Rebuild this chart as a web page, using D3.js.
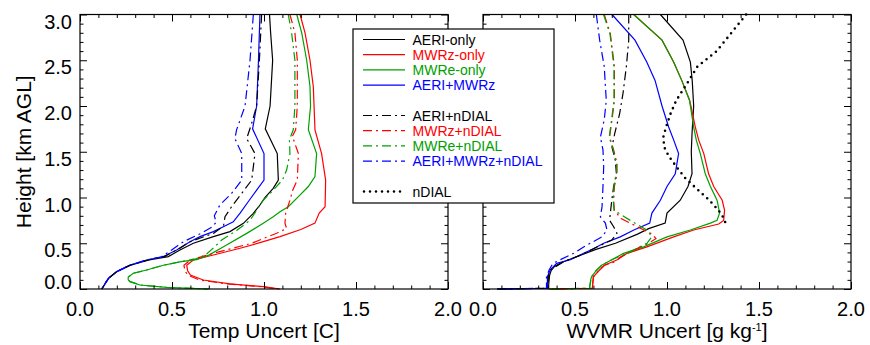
<!DOCTYPE html>
<html>
<head>
<meta charset="utf-8">
<script src="https://cdn.jsdelivr.net/npm/d3@7"></script>
<style>
body{margin:0;background:#fff;}
svg{font-family:"Liberation Sans", Arial, Helvetica, sans-serif;}
</style>
</head>
<body>
<div id="chart"></div>
<script>
// [height km, uncertainty] pairs, top of profile first
const tAeri = [[3.0,1.03],[2.8,1.036],[2.5,1.047],[2.0,1.033],[1.75,1.007],[1.48,1.072],[1.19,1.078],[1.1,1.05],[1.0,1.005],[0.918,0.978],[0.827,0.942],[0.718,0.888],[0.627,0.815],[0.572,0.725],[0.5,0.616],[0.426,0.543],[0.354,0.48],[0.317,0.375],[0.26,0.275],[0.19,0.2],[0.116,0.156],[0.06,0.138],[0.0,0.12]];
const tMwrz = [[3.0,1.196],[2.8,1.223],[2.5,1.25],[2.21,1.268],[2.0,1.272],[1.74,1.277],[1.48,1.313],[1.19,1.335],[0.9,1.332],[0.83,1.30],[0.72,1.277],[0.65,1.2],[0.572,1.087],[0.517,0.996],[0.445,0.87],[0.372,0.725],[0.317,0.616],[0.26,0.58],[0.2,0.585],[0.153,0.6],[0.098,0.67],[0.055,0.815],[0.026,0.996],[0.0,1.087]];
const tMwre = [[3.0,1.178],[2.8,1.205],[2.5,1.232],[2.21,1.25],[2.0,1.253],[1.74,1.241],[1.48,1.286],[1.23,1.277],[1.12,1.241],[1.01,1.187],[0.9,1.132],[0.845,1.087],[0.79,1.05],[0.718,0.996],[0.608,0.906],[0.462,0.78],[0.37,0.7],[0.32,0.634],[0.3,0.55],[0.26,0.453],[0.208,0.362],[0.172,0.29],[0.13,0.262],[0.1,0.262],[0.08,0.272],[0.044,0.326],[0.018,0.471],[0.0,0.7]];
const tAeriMwrz = [[3.0,0.978],[2.5,0.97],[2.0,0.96],[1.75,0.938],[1.48,1.0],[1.19,1.0],[1.08,0.96],[0.97,0.92],[0.83,0.87],[0.735,0.833],[0.681,0.779],[0.627,0.725],[0.572,0.652],[0.517,0.598],[0.426,0.525],[0.354,0.453],[0.317,0.362],[0.26,0.27],[0.19,0.2],[0.116,0.154],[0.06,0.136],[0.0,0.118]];
const tAeriDial = [[3.0,0.987],[2.5,0.975],[2.0,0.96],[1.81,0.933],[1.645,0.906],[1.48,0.951],[1.19,0.933],[1.045,0.879],[0.9,0.824],[0.79,0.788],[0.69,0.78],[0.608,0.725],[0.517,0.598],[0.43,0.53],[0.39,0.489],[0.354,0.46],[0.317,0.37],[0.26,0.27],[0.19,0.2],[0.116,0.154],[0.06,0.136],[0.0,0.118]];
const tMwrzDial = [[3.0,1.141],[2.8,1.168],[2.5,1.181],[2.0,1.181],[1.74,1.172],[1.67,1.154],[1.48,1.187],[1.19,1.181],[1.08,1.156],[0.97,1.141],[0.83,1.118],[0.72,1.114],[0.66,1.123],[0.61,1.069],[0.5,0.933],[0.39,0.725],[0.317,0.6],[0.26,0.565],[0.2,0.57],[0.153,0.585],[0.098,0.65],[0.055,0.8],[0.026,0.98],[0.0,1.08]];
const tMwreDial = [[3.0,1.132],[2.8,1.15],[2.5,1.168],[2.0,1.168],[1.74,1.159],[1.63,1.138],[1.48,1.141],[1.3,1.123],[1.19,1.1],[1.08,1.05],[0.97,0.996],[0.86,0.96],[0.75,0.924],[0.64,0.851],[0.535,0.77],[0.43,0.715],[0.37,0.68],[0.33,0.63],[0.3,0.55],[0.26,0.453],[0.208,0.362],[0.172,0.29],[0.13,0.262],[0.1,0.262],[0.08,0.272],[0.044,0.326],[0.018,0.471],[0.0,0.7]];
const tAeriMwrzDial = [[3.0,0.942],[2.5,0.924],[2.0,0.897],[1.74,0.851],[1.645,0.842],[1.48,0.879],[1.19,0.879],[1.045,0.824],[0.918,0.76],[0.8,0.73],[0.73,0.74],[0.68,0.72],[0.61,0.66],[0.52,0.565],[0.43,0.5],[0.39,0.471],[0.35,0.44],[0.317,0.36],[0.26,0.27],[0.19,0.2],[0.116,0.154],[0.06,0.136],[0.0,0.118]];

const wAeri = [[3.0,0.964],[2.72,1.087],[2.48,1.127],[2.28,1.137],[2.0,1.145],[1.7,1.136],[1.5,1.132],[1.26,1.136],[1.12,1.114],[0.97,1.072],[0.83,1.0],[0.72,0.99],[0.66,0.9],[0.6,0.84],[0.5,0.72],[0.43,0.61],[0.3,0.44],[0.28,0.42],[0.25,0.39],[0.2,0.37],[0.15,0.362],[0.05,0.357],[0.008,0.357],[0.0,0.076]];
const wMwrz = [[3.0,0.819],[2.72,0.973],[2.48,1.036],[2.28,1.08],[2.06,1.123],[2.0,1.13],[1.77,1.154],[1.63,1.172],[1.48,1.2],[1.26,1.226],[1.12,1.254],[0.97,1.3],[0.86,1.313],[0.75,1.308],[0.71,1.281],[0.645,1.145],[0.57,1.036],[0.46,0.891],[0.39,0.783],[0.32,0.73],[0.26,0.66],[0.2,0.63],[0.134,0.6],[0.025,0.595],[0.008,0.595],[0.0,0.357]];
const wMwre = [[3.0,0.819],[2.72,0.973],[2.48,1.036],[2.28,1.08],[2.06,1.123],[2.0,1.127],[1.77,1.145],[1.63,1.159],[1.48,1.181],[1.26,1.208],[1.12,1.236],[0.97,1.272],[0.83,1.286],[0.75,1.272],[0.72,1.236],[0.645,1.127],[0.57,1.0],[0.46,0.873],[0.39,0.764],[0.32,0.70],[0.26,0.645],[0.2,0.615],[0.134,0.59],[0.1,0.585],[0.025,0.58],[0.008,0.58],[0.0,0.357]];
const wAeriMwrz = [[3.0,0.701],[2.72,0.826],[2.48,0.89],[2.28,0.935],[2.0,0.973],[1.77,1.009],[1.63,1.036],[1.48,1.063],[1.26,1.045],[1.12,1.0],[0.97,0.964],[0.83,0.918],[0.72,0.906],[0.645,0.82],[0.57,0.746],[0.5,0.656],[0.44,0.6],[0.39,0.547],[0.32,0.475],[0.28,0.40],[0.21,0.366],[0.135,0.35],[0.025,0.35],[0.008,0.35],[0.0,0.076]];
const wAeriDial = [[3.0,0.792],[2.72,0.792],[2.43,0.779],[2.14,0.761],[1.92,0.743],[1.7,0.716],[1.55,0.701],[1.41,0.719],[1.26,0.725],[1.12,0.71],[0.97,0.7],[0.83,0.692],[0.75,0.688],[0.68,0.71],[0.61,0.728],[0.535,0.70],[0.44,0.6],[0.37,0.53],[0.3,0.44],[0.21,0.366],[0.135,0.355],[0.025,0.355],[0.008,0.355],[0.0,0.076]];
const wMwrzDial = [[3.0,0.659],[2.79,0.692],[2.43,0.714],[2.06,0.714],[1.85,0.701],[1.66,0.688],[1.52,0.71],[1.37,0.728],[1.26,0.728],[1.12,0.714],[0.97,0.71],[0.86,0.714],[0.77,0.75],[0.68,0.84],[0.6,0.92],[0.55,0.94],[0.5,0.9],[0.46,0.855],[0.35,0.746],[0.3,0.72],[0.26,0.66],[0.2,0.63],[0.134,0.6],[0.025,0.595],[0.008,0.595],[0.0,0.357]];
const wMwreDial = [[3.0,0.655],[2.79,0.69],[2.43,0.712],[2.06,0.712],[1.85,0.699],[1.66,0.686],[1.52,0.708],[1.37,0.726],[1.26,0.726],[1.12,0.712],[0.97,0.708],[0.86,0.712],[0.75,0.8],[0.645,0.891],[0.57,0.918],[0.5,0.891],[0.39,0.783],[0.32,0.70],[0.26,0.645],[0.2,0.615],[0.134,0.59],[0.025,0.58],[0.008,0.58],[0.0,0.357]];
const wAeriMwrzDial = [[3.0,0.616],[2.72,0.634],[2.43,0.659],[2.06,0.67],[1.85,0.659],[1.66,0.638],[1.52,0.652],[1.34,0.656],[1.12,0.652],[0.9,0.647],[0.79,0.638],[0.72,0.665],[0.645,0.674],[0.57,0.647],[0.46,0.547],[0.39,0.493],[0.32,0.42],[0.28,0.38],[0.21,0.36],[0.135,0.345],[0.025,0.345],[0.008,0.345],[0.0,0.076]];
const wDial = [[3.0,1.43],[2.8,1.35],[2.6,1.27],[2.43,1.165],[2.25,1.11],[2.06,1.05],[1.92,1.02],[1.77,0.995],[1.66,0.98],[1.55,0.985],[1.45,1.01],[1.34,1.05],[1.21,1.1],[1.08,1.17],[0.97,1.23],[0.86,1.28],[0.77,1.31],[0.72,1.318]];

const legendNames = ['AERI-only','MWRz-only','MWRe-only','AERI+MWRz','AERI+nDIAL','MWRz+nDIAL','MWRe+nDIAL','AERI+MWRz+nDIAL','nDIAL'];
const xTickLabels = [0.0, 0.5, 1.0, 1.5, 2.0];
const yTickLabels = [0.0, 0.5, 1.0, 1.5, 2.0, 2.5, 3.0];

const colors = {k:'#000000', r:'#ff0000', g:'#00a000', b:'#0000ff'};
const dashes = {solid:null, dashdot:'9,4,2,4', dot:'0,6'};

const styles = [
	{c:'k', d:'solid'}, {c:'r', d:'solid'}, {c:'g', d:'solid'}, {c:'b', d:'solid'},
	{c:'k', d:'dashdot'}, {c:'r', d:'dashdot'}, {c:'g', d:'dashdot'}, {c:'b', d:'dashdot'},
	{c:'k', d:'dot'}
];

const W = 870, H = 345;
const plotTop = 14.5, plotBottom = 289;

const svg = d3.select('#chart').append('svg')
	.attr('width', W).attr('height', H)
	.attr('viewBox', [0, 0, W, H]);

class Panel{
	constructor({left, right, series, title, yLabels}){
		this.x = d3.scaleLinear().domain([0, 2]).range([left, right]);
		this.y = d3.scaleLinear().domain([0, 3]).range([plotBottom, plotTop]);
		this.series = series;
		this.title = title;
		this.yLabels = yLabels;
		this.g = svg.append('g');
	}

	_axes(){
		const x = this.x, y = this.y, g = this.g;
		const minorX = d3.range(0, 21).map(i => i / 10);
		const minorY = d3.range(0, 31).map(i => i / 10);
		const isMajor = v => Math.abs(v * 2 - Math.round(v * 2)) < 1e-6;

		const tick = (sel, axis) => sel.call(axis).call(s => s.select('.domain').remove())
			.selectAll('line').attr('stroke', '#000').attr('stroke-width', 1);

		g.append('g').attr('transform', `translate(0,${plotBottom})`)
			.call(s => tick(s, d3.axisBottom(x).tickValues(minorX).tickSizeInner(0).tickSizeOuter(0).tickFormat('')))
			.selectAll('.tick line').attr('y2', d => isMajor(d) ? -7 : -3.5);
		g.append('g').attr('transform', `translate(0,${plotTop})`)
			.call(s => tick(s, d3.axisTop(x).tickValues(minorX).tickSizeInner(0).tickSizeOuter(0).tickFormat('')))
			.selectAll('.tick line').attr('y2', d => isMajor(d) ? 7 : 3.5);
		g.append('g').attr('transform', `translate(${x(0)},0)`)
			.call(s => tick(s, d3.axisLeft(y).tickValues(minorY).tickSizeInner(0).tickSizeOuter(0).tickFormat('')))
			.selectAll('.tick line').attr('x2', d => isMajor(d) ? 7 : 3.5);
		g.append('g').attr('transform', `translate(${x(2)},0)`)
			.call(s => tick(s, d3.axisRight(y).tickValues(minorY).tickSizeInner(0).tickSizeOuter(0).tickFormat('')))
			.selectAll('.tick line').attr('x2', d => isMajor(d) ? -7 : -3.5);

		g.append('rect')
			.attr('x', x(0)).attr('y', plotTop)
			.attr('width', x(2) - x(0)).attr('height', plotBottom - plotTop)
			.attr('fill', 'none').attr('stroke', '#000').attr('stroke-width', 1.2);

		g.selectAll('.xlab').data(xTickLabels).join('text')
			.attr('class', 'xlab')
			.attr('x', d => x(d)).attr('y', 315.5)
			.attr('text-anchor', 'middle').attr('font-size', 20)
			.text(d3.format('.1f'));

		if(this.yLabels){
			g.selectAll('.ylab').data(yTickLabels).join('text')
				.attr('class', 'ylab')
				.attr('x', x(0) - 8)
				.attr('y', d => d === 0 ? y(d) - 7 : y(d) + 7)
				.attr('dy', '0.36em')
				.attr('text-anchor', 'end').attr('font-size', 20)
				.text(d3.format('.1f'));
		}
	}

	_lines(){
		const line = d3.line().x(d => this.x(d[1])).y(d => this.y(d[0]));
		this.g.append('g').selectAll('path')
			.data(this.series)
			.join('path')
			.attr('d', d => line(d.data))
			.attr('fill', 'none')
			.attr('stroke', d => colors[d.c])
			.attr('stroke-width', d => d.d === 'dot' ? 2.6 : 1.2)
			.attr('stroke-linecap', d => d.d === 'dot' ? 'round' : 'butt')
			.attr('stroke-dasharray', d => dashes[d.d]);
	}

	_title(){
		const t = this.g.append('text')
			.attr('x', (this.x(0) + this.x(2)) / 2).attr('y', 338)
			.attr('text-anchor', 'middle').attr('font-size', 21);
		this.title.forEach(p => {
			t.append('tspan')
				.attr('font-size', p.sup ? 11 : null)
				.attr('dy', p.dy || 0)
				.text(p.text);
		});
	}

	render(){
		this._lines();
		this._axes();
		this._title();
	}
}

const tempSeries = [tAeri, tMwrz, tMwre, tAeriMwrz, tAeriDial, tMwrzDial, tMwreDial, tAeriMwrzDial]
	.map((data, i) => ({data, ...styles[i]}));
const wvSeries = [wAeri, wMwrz, wMwre, wAeriMwrz, wAeriDial, wMwrzDial, wMwreDial, wAeriMwrzDial, wDial]
	.map((data, i) => ({data, ...styles[i]}));

new Panel({left:80, right:448, series:tempSeries, yLabels:true,
	title:[{text:'Temp Uncert [C]'}]}).render();
new Panel({left:483, right:851, series:wvSeries, yLabels:false,
	title:[{text:'WVMR Uncert [g kg'}, {text:'-1', sup:true, dy:-7}, {text:']', dy:7}]}).render();

svg.append('text')
	.attr('transform', `translate(31,${(plotTop + plotBottom) / 2}) rotate(-90)`)
	.attr('text-anchor', 'middle').attr('font-size', 21)
	.text('Height [km AGL]');

// legend
const rows = [0, 1, 2, 3, 5, 6, 7, 8, 10];
const legend = svg.append('g');
legend.append('rect')
	.attr('x', 353).attr('y', 29).attr('width', 201).attr('height', 174)
	.attr('fill', '#fff').attr('stroke', '#000').attr('stroke-width', 1.2);
const item = legend.selectAll('g.item')
	.data(legendNames.map((name, i) => ({name, row:rows[i], ...styles[i]})))
	.join('g').attr('class', 'item')
	.attr('transform', d => `translate(0,${39.5 + d.row * 15.2})`);
item.append('line')
	.attr('x1', d => d.d === 'dot' ? 364 : 363).attr('x2', 405)
	.attr('stroke', d => colors[d.c])
	.attr('stroke-width', d => d.d === 'dot' ? 2.6 : 1.2)
	.attr('stroke-linecap', d => d.d === 'dot' ? 'round' : 'butt')
	.attr('stroke-dasharray', d => dashes[d.d]);
item.append('text')
	.attr('x', 412.5).attr('y', 5)
	.attr('font-size', 14)
	.attr('fill', d => colors[d.c])
	.text(d => d.name);
</script>
</body>
</html>
